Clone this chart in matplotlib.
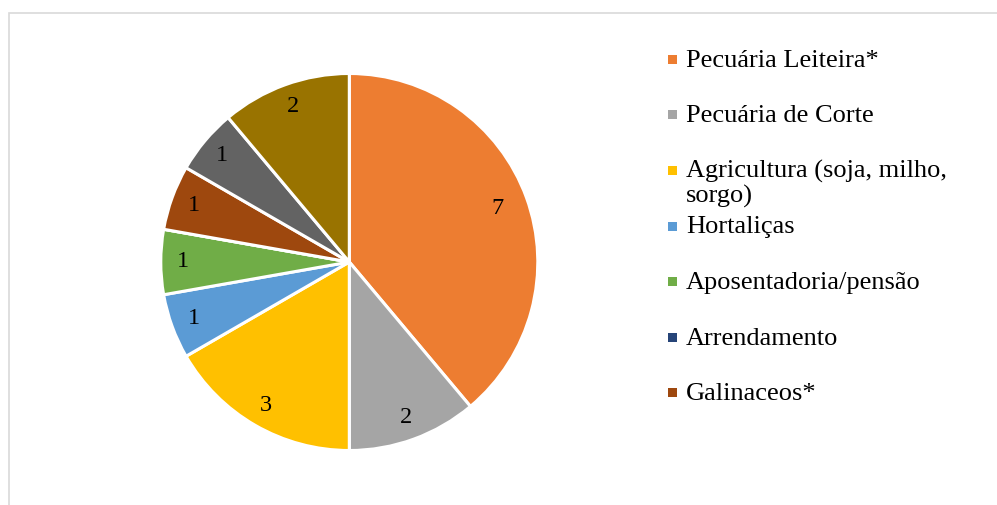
"""Pie chart: fontes de renda (recreation)."""
import matplotlib

matplotlib.use("Agg")
import matplotlib.pyplot as plt
from matplotlib.patches import Rectangle

# data
categories = [
    "Pecuária Leiteira*",
    "Pecuária de Corte",
    "Agricultura (soja, milho,\nsorgo)",
    "Hortaliças",
    "Aposentadoria/pensão",
    "Arrendamento",
    "Galinaceos*",
    "Outros 1",
    "Outros 2",
]
values = [7, 2, 3, 1, 1, 0, 1, 1, 2]
colors = ["#ED7D31", "#A5A5A5", "#FFC000", "#5B9BD5", "#70AD47",
          "#264478", "#9E480E", "#636363", "#997300"]
n_legend = 7  # only the first seven entries are visible in the legend

plt.rcParams["font.family"] = ["Liberation Serif", "DejaVu Serif"]

W, H = 997, 505
fig = plt.figure(figsize=(W / 100, H / 100), dpi=100)

# outer chart frame (only top and left edges visible)
fig.add_artist(Rectangle((8.5 / W, -0.1), 1.2, (H - 12.5) / H + 0.1,
                         transform=fig.transFigure, fill=False,
                         edgecolor="#D9D9D9", linewidth=1.2, clip_on=False))

cx, cy, r = 349.3, H - 262, 188.5
ax = fig.add_axes([(cx - r) / W, (cy - r) / H, 2 * r / W, 2 * r / H])
labels = [str(v) if v > 0 else "" for v in values]
wedges, texts = ax.pie(values, colors=colors, startangle=90, counterclock=False,
                       labels=labels, labeldistance=0.88,
                       wedgeprops=dict(edgecolor="white", linewidth=2.2),
                       textprops=dict(fontsize=17.5, color="black"))
for t in texts:
    t.set_ha("center")
    t.set_va("center")
texts[0].set_position((texts[0].get_position()[0] * 0.95,
                       texts[0].get_position()[1] * 0.95))
ax.set_xlim(-1, 1)
ax.set_ylim(-1, 1)
ax.set_aspect("equal")
ax.axis("off")

# legend drawn by hand to mimic the fixed row spacing
row0, step, line_h = 59.3, 55.6, 24.5
for i in range(n_legend):
    yc = row0 + i * step
    s = 9
    fig.add_artist(Rectangle((668 / W, (H - yc - s / 2) / H), s / W, s / H,
                             transform=fig.transFigure, facecolor=colors[i],
                             edgecolor="none"))
    for j, line in enumerate(categories[i].split("\n")):
        fig.text(686 / W, (H - yc - 7.4 - j * line_h) / H, line, fontsize=19,
                 va="baseline", ha="left")

fig.savefig("out.png", dpi=100)
